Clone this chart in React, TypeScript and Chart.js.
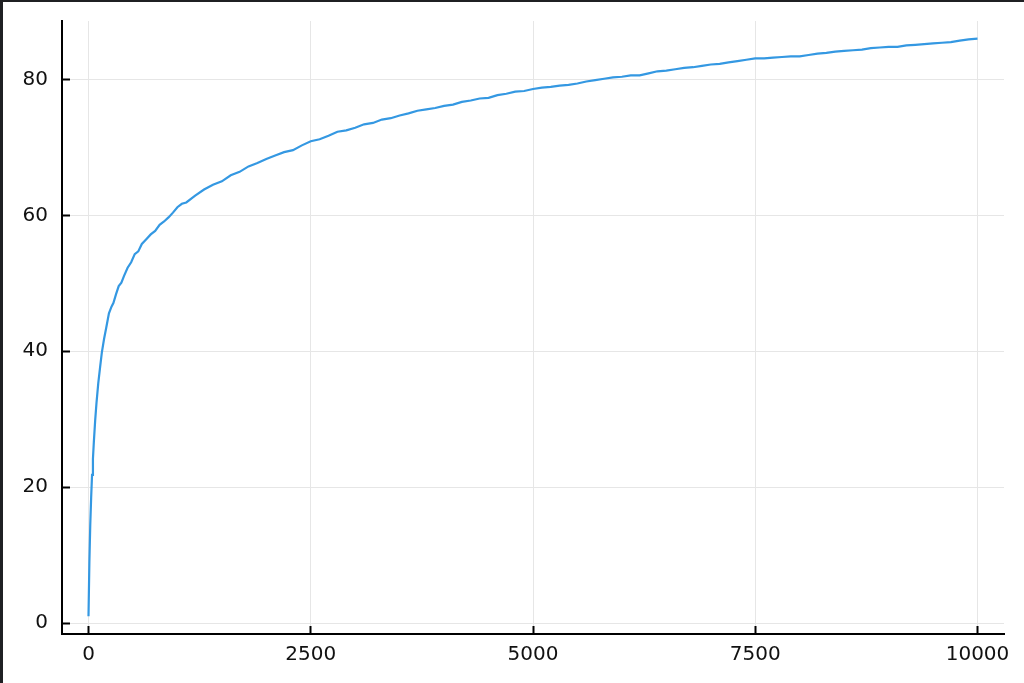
import React, { useEffect, useRef } from "react";
import { Chart, registerables } from "chart.js";

Chart.register(...registerables);

const xValues: number[] = [
  0, 10, 20, 30, 40, 50, 60, 75, 90, 110, 130, 150, 175, 200, 230, 260, 280, 310, 340, 370,
  400, 440, 480, 520, 560, 600, 650, 700, 750, 800, 850, 900, 950, 1000, 1050, 1100, 1200, 1300,
  1400, 1500, 1600, 1700, 1800, 1900, 2000, 2100, 2200, 2300, 2400, 2500, 2600, 2700, 2800, 2900,
  3000, 3100, 3200, 3300, 3400, 3500, 3600, 3700, 3800, 3900, 4000, 4100, 4200, 4300, 4400, 4500,
  4600, 4700, 4800, 4900, 5000, 5100, 5200, 5300, 5400, 5500, 5600, 5700, 5800, 5900, 6000, 6100,
  6200, 6300, 6400, 6500, 6600, 6700, 6800, 6900, 7000, 7100, 7200, 7300, 7400, 7500, 7600, 7700,
  7800, 7900, 8000, 8100, 8200, 8300, 8400, 8500, 8600, 8700, 8800, 8900, 9000, 9100, 9200, 9300,
  9400, 9500, 9600, 9700, 9800, 9900, 10000,
];

const yValues: number[] = [
  1, 9, 14.5, 18.5, 21.8, 24.2, 26.6, 29.8, 32.4, 35.3, 37.6, 39.8, 41.8, 43.5, 45.6, 46.6, 47.1, 48.4, 49.6, 50.1,
  51.1, 52.3, 53.1, 54.3, 54.7, 55.8, 56.5, 57.2, 57.7, 58.6, 59.1, 59.7, 60.4, 61.2, 61.7, 61.9, 62.9, 63.8,
  64.5, 65.0, 65.9, 66.4, 67.2, 67.7, 68.3, 68.8, 69.3, 69.6, 70.3, 70.9, 71.2, 71.7, 72.3, 72.5,
  72.9, 73.4, 73.6, 74.1, 74.3, 74.7, 75.0, 75.4, 75.6, 75.8, 76.1, 76.3, 76.7, 76.9, 77.2, 77.3,
  77.7, 77.9, 78.2, 78.3, 78.6, 78.8, 78.9, 79.1, 79.2, 79.4, 79.7, 79.9, 80.1, 80.3, 80.4, 80.6,
  80.6, 80.9, 81.2, 81.3, 81.5, 81.7, 81.8, 82.0, 82.2, 82.3, 82.5, 82.7, 82.9, 83.1, 83.1, 83.2,
  83.3, 83.4, 83.4, 83.6, 83.8, 83.9, 84.1, 84.2, 84.3, 84.4, 84.6, 84.7, 84.8, 84.8, 85.0, 85.1,
  85.2, 85.3, 85.4, 85.5, 85.7, 85.9, 86.0,
];

const xTicks: number[] = [0, 2500, 5000, 7500, 10000];
const yTicks: number[] = [0, 20, 40, 60, 80];

export default function App() {
  const ref = useRef<HTMLCanvasElement | null>(null);
  useEffect(() => {
    if (!ref.current) return;
    const font = { family: "'DejaVu Sans', sans-serif", size: 20 };
    const grid = {
      color: "#e6e6e6",
      lineWidth: 1,
      drawTicks: true,
      tickLength: -8,
      tickColor: "#000000",
      tickWidth: 2,
    };
    const chart = new Chart(ref.current, {
      type: "line",
      data: {
        datasets: [
          {
            data: xValues.map((x, i) => ({ x, y: yValues[i] })),
            borderColor: "#3498e2",
            borderWidth: 2.2,
            pointRadius: 0,
            fill: false,
            tension: 0,
          },
        ],
      },
      options: {
        responsive: false,
        animation: false,
        devicePixelRatio: 1,
        layout: { padding: { left: 0, top: 21, right: 20, bottom: 0 } },
        plugins: { legend: { display: false }, tooltip: { enabled: false } },
        scales: {
          x: {
            type: "linear",
            min: -298,
            max: 10298,
            afterBuildTicks: (s: any) => {
              s.ticks = xTicks.map((v) => ({ value: v }));
            },
            afterFit: (s: any) => {
              s.height = 49;
              s.paddingLeft = 0;
              s.paddingRight = 0;
            },
            grid,
            border: { display: true, color: "#000", width: 2 },
            ticks: {
              font,
              color: "#111",
              padding: 17,
              maxRotation: 0,
              autoSkip: false,
              callback: (v: any) => String(v),
            },
          },
          y: {
            type: "linear",
            min: -1.6,
            max: 88.6,
            afterBuildTicks: (s: any) => {
              s.ticks = yTicks.map((v) => ({ value: v }));
            },
            afterFit: (s: any) => {
              s.width = 62;
              s.paddingTop = 0;
              s.paddingBottom = 0;
            },
            grid,
            border: { display: true, color: "#000", width: 2 },
            ticks: { font, color: "#111", padding: 22, autoSkip: false, callback: (v: any) => String(v) },
          },
        },
      },
    });
    return () => chart.destroy();
  }, []);

  return (
    <div style={{ position: "fixed", left: 0, top: 0, width: 1024, height: 683, background: "#fff" }}>
      <canvas ref={ref} width={1024} height={683} style={{ width: 1024, height: 683, display: "block" }} />
      <div style={{ position: "absolute", left: 0, top: 0, width: 1024, height: 2, background: "#1f2023" }} />
      <div style={{ position: "absolute", left: 0, top: 0, width: 3, height: 683, background: "#1f2023" }} />
    </div>
  );
}
